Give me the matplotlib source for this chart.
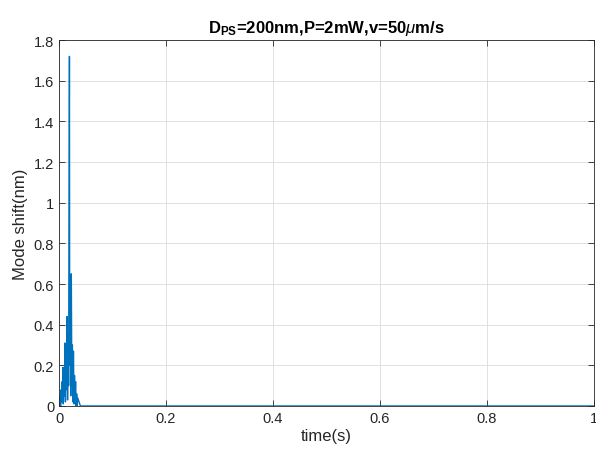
import matplotlib
matplotlib.use('Agg')
import matplotlib.pyplot as plt

# time (s) and mode shift (nm)
time_s = [0.0, 0.002, 0.003, 0.004, 0.005, 0.006, 0.007, 0.0075, 0.008, 0.009,
          0.010, 0.011, 0.012, 0.013, 0.014, 0.015, 0.016, 0.017, 0.018, 0.019,
          0.0195, 0.020, 0.021, 0.022, 0.023, 0.024, 0.025, 0.026, 0.027, 0.028,
          0.029, 0.030, 0.031, 0.032, 0.033, 0.034, 0.035, 0.04, 1.0]
shift_nm = [0.0, 0.05, 0.0, 0.08, 0.02, 0.12, 0.03, 0.19, 0.01, 0.15,
            0.05, 0.31, 0.02, 0.22, 0.08, 0.44, 0.03, 0.35, 0.1, 1.1,
            1.72, 0.2, 0.55, 0.05, 0.65, 0.1, 0.3, 0.02, 0.27, 0.01,
            0.15, 0.03, 0.12, 0.0, 0.06, 0.0, 0.04, 0.0, 0.0]

xticks = [0, 0.2, 0.4, 0.6, 0.8, 1]
xticklabels = ['0', '0.2', '0.4', '0.6', '0.8', '1']
yticks = [0, 0.2, 0.4, 0.6, 0.8, 1, 1.2, 1.4, 1.6, 1.8]
yticklabels = ['0', '0.2', '0.4', '0.6', '0.8', '1', '1.2', '1.4', '1.6', '1.8']

plt.rcParams['font.family'] = ['Liberation Sans', 'DejaVu Sans']
plt.rcParams['mathtext.fontset'] = 'custom'
plt.rcParams['mathtext.rm'] = 'Liberation Sans'
plt.rcParams['mathtext.bf'] = 'Liberation Sans:bold'
plt.rcParams['mathtext.it'] = 'Liberation Sans:italic'

fig = plt.figure(figsize=(5.96, 4.52), dpi=100)
ax = fig.add_axes([0.099, 0.0996, 0.8976, 0.8094])

ax.plot(time_s, shift_nm, color='#0072BD', linewidth=1.0)

ax.set_xlim(0, 1)
ax.set_ylim(0, 1.8)
ax.set_xticks(xticks)
ax.set_xticklabels(xticklabels)
ax.set_yticks(yticks)
ax.set_yticklabels(yticklabels)
ax.grid(True, color='#dcdcdc', linewidth=0.6)
ax.set_axisbelow(True)
ax.tick_params(direction='in', length=4, width=0.6, labelsize=10.5, colors='#262626',
               top=True, right=True)
for s in ax.spines.values():
    s.set_color('#262626')
    s.set_linewidth(0.6)

ax.set_xlabel('time(s)', fontsize=12, color='#262626', labelpad=2)
ax.set_ylabel('Mode shift(nm)', fontsize=12, color='#262626', labelpad=4)
ax.set_title(r'$\mathbf{D_{PS}}$=200nm,P=2mW,v=50$\mu$m/s', fontsize=12,
             fontweight='bold', pad=6)

fig.savefig('out.png', dpi=100)
